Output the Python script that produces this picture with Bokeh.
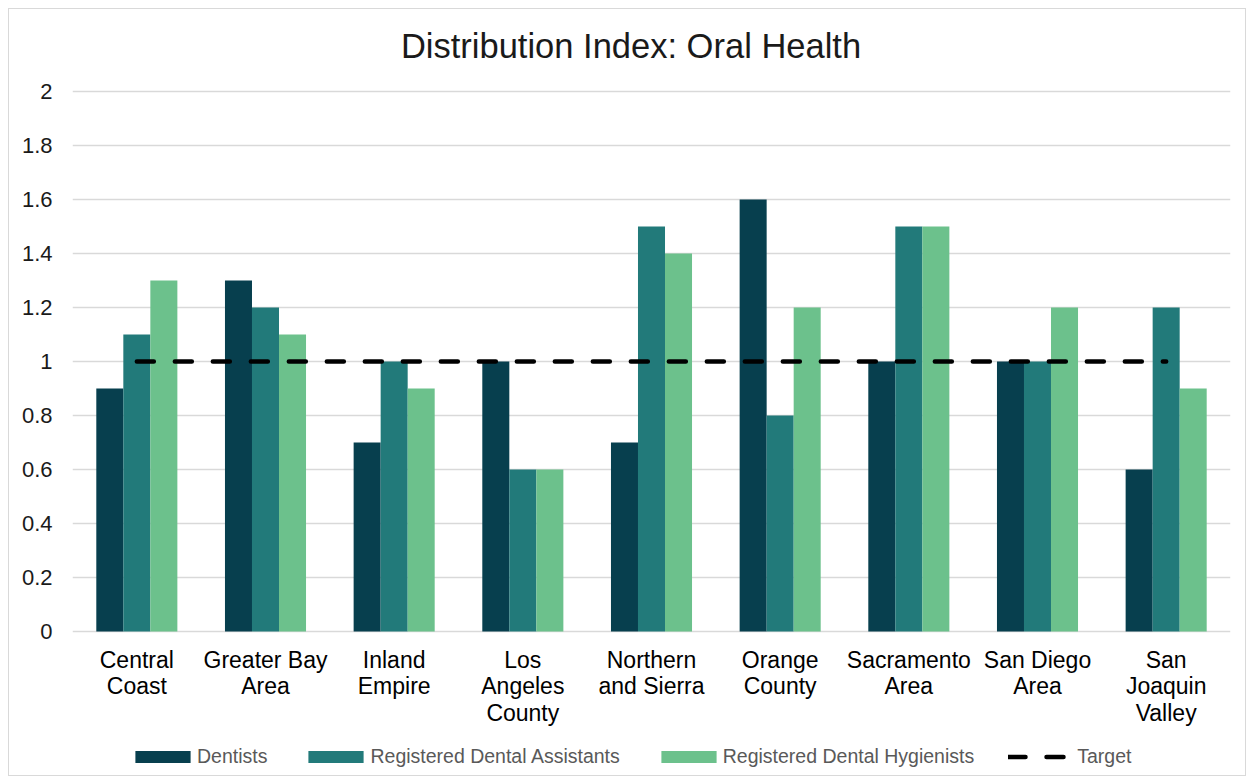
from bokeh.plotting import figure
from bokeh.models import ColumnDataSource, FactorRange, Legend, LegendItem, FixedTicker, NumeralTickFormatter, Range1d
from bokeh.core.properties import value
from bokeh.transform import dodge
from bokeh.embed import file_html
from bokeh.resources import INLINE

title_text = "Distribution Index: Oral Health"
regions = ["Central Coast", "Greater Bay Area", "Inland Empire", "Los Angeles County",
           "Northern and Sierra", "Orange County", "Sacramento Area", "San Diego Area",
           "San Joaquin Valley"]
region_labels = ["Central\nCoast", "Greater Bay\nArea", "Inland\nEmpire", "Los\nAngeles\nCounty",
                 "Northern\nand Sierra", "Orange\nCounty", "Sacramento\nArea", "San Diego\nArea",
                 "San\nJoaquin\nValley"]
dentists = [0.9, 1.3, 0.7, 1.0, 0.7, 1.6, 1.0, 1.0, 0.6]
assistants = [1.1, 1.2, 1.0, 0.6, 1.5, 0.8, 1.5, 1.0, 1.2]
hygienists = [1.3, 1.1, 0.9, 0.6, 1.4, 1.2, 1.5, 1.2, 0.9]
target = [1.0, 1.0, 1.0, 1.0, 1.0, 1.0, 1.0, 1.0, 1.0]
y_ticks = [0, 0.2, 0.4, 0.6, 0.8, 1.0, 1.2, 1.4, 1.6, 1.8, 2.0]

FONT = "Liberation Sans"
C_DEN = "#073f4e"
C_RDA = "#227a7a"
C_RDH = "#6cc18c"

src = ColumnDataSource(dict(region=regions, label=region_labels, den=dentists,
                            rda=assistants, rdh=hygienists, target=target))

# frame covers nearly the whole canvas: 270 px per unit, value 2 sits 77 px below frame top
W, H = 1238, 768
TOP, BOTTOM = 5, 5
px_per_unit = 270.0
y_end = 2.0 + 77 / px_per_unit
frame_h = H - TOP - BOTTOM
y_start = y_end - frame_h / px_per_unit

p = figure(x_range=FactorRange(*regions), y_range=Range1d(y_start, y_end),
           width=W, height=H, output_backend="svg", toolbar_location=None,
           x_axis_location=None,
           min_border_left=63, min_border_right=17, min_border_top=TOP, min_border_bottom=BOTTOM)
p.styles = {"margin-left": "8px", "margin-top": "8px", "border": "1px solid #d9d9d9"}

bw = 0.21
r1 = p.vbar(x=dodge("region", -bw, range=p.x_range), top="den", bottom=0, width=bw, source=src,
            fill_color=C_DEN, line_color=None)
r2 = p.vbar(x=dodge("region", 0, range=p.x_range), top="rda", bottom=0, width=bw, source=src,
            fill_color=C_RDA, line_color=None)
r3 = p.vbar(x=dodge("region", bw, range=p.x_range), top="rdh", bottom=0, width=bw, source=src,
            fill_color=C_RDH, line_color=None)
r4 = p.line(x="region", y="target", source=src, line_color="black", line_width=4.5,
            line_dash="17 21", line_cap="round")

# category labels (multi-line) under the zero line
p.text(x="region", y=0, text="label", source=src, text_align="center", text_baseline="top",
       y_offset=15, text_font=value(FONT), text_font_size="23px", text_color="#000000",
       text_line_height=1.02)

# chart title, above the top gridline
p.text(x=[regions[4]], y=[y_ticks[-1]], text=[title_text], text_align="center",
       text_baseline="alphabetic", x_offset=-20.5, y_offset=-46,
       text_font=value(FONT), text_font_size="34.5px", text_color="#1a1a1a")

p.outline_line_color = None
p.background_fill_color = "white"
p.xgrid.grid_line_color = None
p.ygrid.grid_line_color = "#d9d9d9"
p.ygrid.grid_line_width = 1.3
p.ygrid.ticker = FixedTicker(ticks=y_ticks)

p.yaxis.ticker = FixedTicker(ticks=y_ticks)
p.yaxis.formatter = NumeralTickFormatter(format="0.[0]")
p.yaxis.axis_line_color = None
p.yaxis.major_tick_line_color = None
p.yaxis.minor_tick_line_color = None
p.yaxis.major_label_standoff = 14
p.yaxis.major_label_text_font = FONT
p.yaxis.major_label_text_font_size = "22px"
p.yaxis.major_label_text_color = "#1a1a1a"

legend = Legend(items=[
    LegendItem(label="Dentists", renderers=[r1]),
    LegendItem(label="Registered Dental Assistants", renderers=[r2]),
    LegendItem(label="Registered Dental Hygienists", renderers=[r3]),
    LegendItem(label="Target", renderers=[r4]),
], orientation="horizontal", location=(56, 4))
legend.label_text_font = FONT
legend.label_text_font_size = "19.5px"
legend.label_text_color = "#595959"
legend.glyph_width = 69
legend.glyph_height = 15
legend.label_standoff = 0
legend.spacing = 34
legend.border_line_color = None
legend.background_fill_alpha = 0
legend.padding = 0
legend.margin = 0
p.add_layout(legend, "center")

open("out.html", "w").write(file_html(p, INLINE))
